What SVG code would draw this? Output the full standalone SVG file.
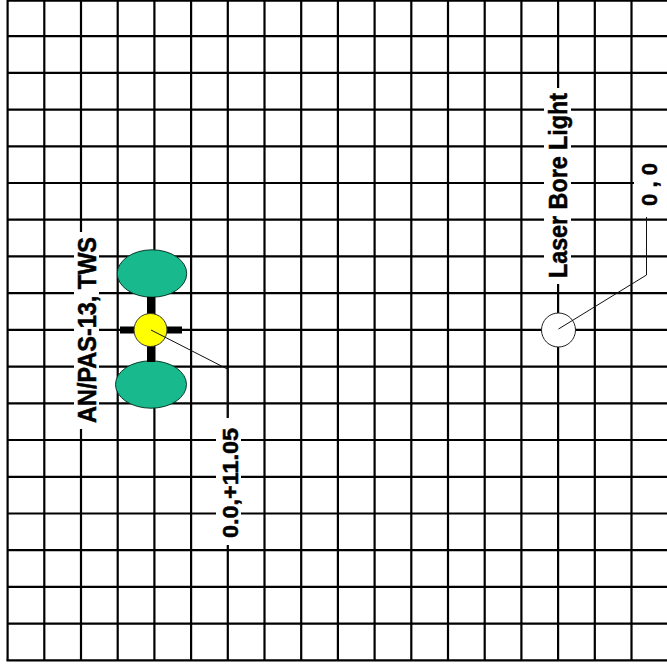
<svg xmlns="http://www.w3.org/2000/svg" width="667" height="666" viewBox="0 0 667 666">
<style>
.grid{stroke:#000;stroke-width:2.2;fill:none}
.lbl{font-family:"Liberation Sans",Arial,sans-serif;font-weight:bold;fill:#000;stroke:#000;stroke-width:0.5}
.bg{fill:#fff}
.lead{stroke:#111;stroke-width:1;fill:none}
.pod{fill:#18B98C;stroke:#0a3a2c;stroke-width:1}
</style>
<rect width="667" height="666" fill="#fff"/>
<g id="grid" class="grid">
<path d="M7.6 0V660.4M44.3 0V660.4M81 0V660.4M117.7 0V660.4M154.4 0V660.4M191.1 0V660.4M227.8 0V660.4M264.5 0V660.4M301.2 0V660.4M337.9 0V660.4M374.6 0V660.4M411.3 0V660.4M448 0V660.4M484.7 0V660.4M521.4 0V660.4M558.1 0V660.4M594.8 0V660.4M631.5 0V660.4"/>
<path d="M7.6 0.6H667M7.6 36.1H667M7.6 72.8H667M7.6 109.6H667M7.6 146.3H667M7.6 183H667M7.6 219.7H667M7.6 256.4H667M7.6 293.2H667M7.6 329.9H667M7.6 366.6H667M7.6 403.3H667M7.6 440H667M7.6 476.8H667M7.6 513.5H667M7.6 550.2H667M7.6 586.9H667M7.6 623.6H667M6.5 660.4H667"/>
</g>
<g id="label-backgrounds">
<rect class="bg" x="74" y="232" width="25" height="197"/>
<rect class="bg" x="544" y="88" width="27" height="196"/>
<rect class="bg" x="634" y="153" width="33" height="64"/>
<rect class="bg" x="216" y="418" width="25" height="127"/>
</g>
<g id="tws">
<ellipse class="pod" cx="152" cy="273.5" rx="34.7" ry="23.7"/>
<ellipse class="pod" cx="151" cy="384.5" rx="35.5" ry="23.7"/>
<rect x="147" y="297" width="8" height="65" fill="#000"/>
<rect x="120" y="326.5" width="62" height="7" fill="#000"/>
<circle cx="150.5" cy="330" r="16.5" fill="#FFFF00" stroke="#333" stroke-width="1"/>
</g>
<g id="laser-bore-light">
<circle cx="558.5" cy="330" r="17" fill="#fff" stroke="#222" stroke-width="1"/>
</g>
<g id="connectors">
<path class="lead" d="M151 330L227.3 369V418"/>
<path class="lead" d="M558.5 329L646.5 275V217"/>
</g>
<g id="label-tws">
<text class="lbl" font-size="25" textLength="186" lengthAdjust="spacingAndGlyphs" transform="translate(96,423) rotate(-90)">AN/PAS-13, TWS</text>
</g>
<g id="label-laser">
<text class="lbl" font-size="25" textLength="185" lengthAdjust="spacingAndGlyphs" transform="translate(566.5,278) rotate(-90)">Laser Bore Light</text>
</g>
<g id="label-laser-coords">
<text class="lbl" font-size="22" textLength="43" lengthAdjust="spacingAndGlyphs" transform="translate(656.5,206) rotate(-90)">0 , 0</text>
</g>
<g id="label-tws-coords">
<text class="lbl" font-size="22" textLength="110" lengthAdjust="spacingAndGlyphs" transform="translate(237.5,538) rotate(-90)">0.0,+11.05</text>
</g>
</svg>
